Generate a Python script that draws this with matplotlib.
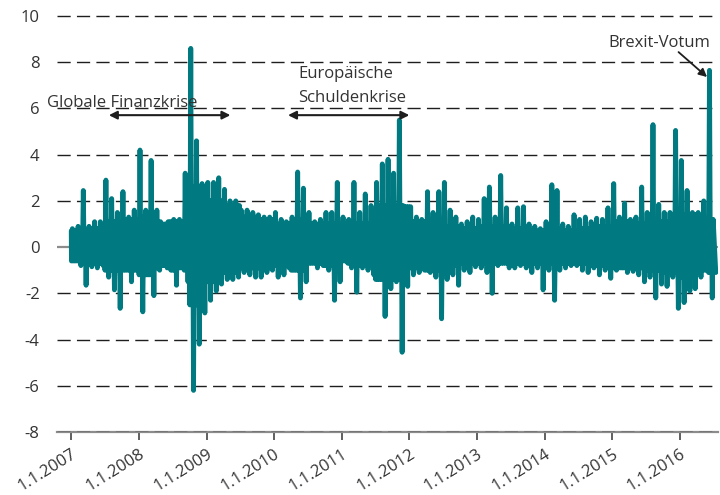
import matplotlib
matplotlib.use("Agg")
import matplotlib.pyplot as plt
import pandas as pd

plt.rcParams['font.family'] = ['Open Sans', 'DejaVu Sans']

# ---- data ----
months = pd.period_range("2007-01", "2016-06", freq="M")
# monthly extremes (spikes)
monthly_high = [
    0.8, 0.9, 2.45, 0.9, 1.1, 1.1, 2.9, 2.1, 1.5, 2.4, 1.3, 1.6,        # 2007
    4.2, 1.6, 3.75, 1.6, 1.0, 1.1, 1.2, 1.2, 3.2, 8.6, 4.6, 2.75,       # 2008
    2.8, 2.8, 3.0, 2.5, 2.0, 2.0, 1.6, 1.6, 1.5, 1.4, 1.3, 1.3,         # 2009
    1.5, 1.2, 1.1, 1.3, 3.25, 2.55, 1.5, 1.1, 1.2, 1.5, 1.5, 2.8,       # 2010
    1.3, 1.2, 2.8, 1.5, 2.3, 1.8, 2.8, 3.6, 3.8, 3.2, 5.5, 1.75,        # 2011
    1.75, 1.3, 1.2, 2.4, 1.5, 2.4, 2.8, 1.6, 1.3, 1.0, 1.1, 1.3,        # 2012
    1.2, 2.1, 2.6, 1.3, 3.1, 1.7, 1.0, 1.7, 1.75, 1.0, 0.9, 0.8,        # 2013
    1.1, 2.7, 2.45, 1.0, 0.9, 1.4, 1.2, 1.3, 1.1, 1.25, 1.2, 1.7,       # 2014
    2.75, 1.3, 1.9, 1.2, 1.3, 2.6, 1.5, 5.3, 1.85, 1.5, 1.5, 5.05,      # 2015
    3.75, 2.45, 1.5, 1.5, 2.0, 7.65,                                    # 2016
]
monthly_low = [
    -0.6, -0.8, -1.65, -0.85, -0.9, -0.8, -1.3, -1.85, -2.65, -1.0, -1.5, -1.0,
    -2.8, -1.2, -2.1, -1.0, -0.8, -1.0, -1.65, -0.9, -1.5, -6.2, -4.2, -2.85,
    -2.3, -1.9, -1.6, -1.4, -1.4, -1.3, -1.1, -1.2, -1.3, -1.3, -1.1, -1.0,
    -1.3, -1.2, -0.9, -1.0, -2.2, -1.5, -0.7, -0.9, -0.8, -1.0, -2.3, -1.5,
    -0.6, -0.9, -1.95, -0.9, -1.0, -1.2, -1.4, -3.0, -1.8, -1.5, -4.55, -1.7,
    -1.2, -1.1, -1.0, -1.1, -1.3, -3.1, -1.4, -1.2, -1.65, -1.0, -1.1, -0.85,
    -0.9, -1.1, -2.0, -0.8, -0.7, -0.9, -0.9, -0.8, -0.9, -1.1, -0.9, -1.85,
    -1.0, -2.3, -1.0, -0.9, -0.8, -0.8, -1.0, -1.1, -0.9, -1.2, -1.0, -1.35,
    -1.0, -0.9, -1.1, -1.05, -1.2, -1.5, -1.3, -2.2, -1.6, -1.7, -1.3, -2.65,
    -2.4, -1.9, -1.8, -1.3, -1.0, -2.2,
]
# typical daily range (solid band) per quarter, 2007Q1 .. 2016Q2
band_high = [
    0.7, 0.8, 1.1, 1.2,
    1.3, 1.1, 1.1, 2.6,
    2.0, 1.8, 1.3, 1.2,
    1.0, 1.2, 1.0, 1.0,
    1.0, 1.0, 1.8, 1.8,
    1.1, 1.2, 0.9, 0.8,
    0.9, 0.9, 0.8, 0.7,
    0.8, 0.7, 0.8, 0.9,
    1.1, 1.0, 1.1, 1.1,
    1.4, 1.2,
]
band_low = [
    -0.6, -0.7, -1.0, -1.0,
    -1.2, -0.9, -1.0, -2.5,
    -1.5, -1.1, -0.9, -0.9,
    -0.8, -1.0, -0.7, -0.8,
    -0.7, -0.8, -1.4, -1.4,
    -0.9, -1.0, -0.8, -0.7,
    -0.7, -0.7, -0.7, -0.7,
    -0.7, -0.7, -0.7, -0.8,
    -0.9, -0.9, -1.0, -1.1,
    -1.3, -1.1,
]
first_value = 0.7
last_value = -1.1
tick_years = list(range(2007, 2017))
tick_labels = [f"1.1.{y}" for y in tick_years]
y_ticks = list(range(-8, 11, 2))

# ---- build series: band / spike values within each month ----
dates = [pd.Timestamp("2007-01-02")]
values = [first_value]
for i, (p, h, l) in enumerate(zip(months, monthly_high, monthly_low)):
    s = p.start_time
    bh = min(band_high[i // 3], h)
    bl = max(band_low[i // 3], l)
    for day, v in zip([2, 7, 12, 17, 22, 27], [bl, h, bl, bh, l, bh]):
        dates.append(s + pd.Timedelta(days=day))
        values.append(v)
dates.append(pd.Timestamp("2016-07-12"))
values.append(last_value)

teal = "#007a80"
dark = "#1e1e1e"
txt = "#333333"
fs = 12

fig = plt.figure(figsize=(7.2, 4.95), dpi=100)
ax = fig.add_axes([57/720, 1 - 432/495, (718 - 57)/720, (432 - 11.4)/495])

ax.set_xlim(pd.Timestamp("2006-10-17"), pd.Timestamp("2016-07-24"))
ax.set_ylim(-8, 10.2)

for y in y_ticks:
    if y == 0:
        ax.axhline(0, color="#8c8c8c", lw=1.6, zorder=1)
    else:
        ax.axhline(y, color=dark, lw=1.0, dashes=(9.5, 4.5), zorder=3 if y == -8 else 1)

ax.plot(dates, values, color=teal, lw=3.5, solid_joinstyle="round",
        solid_capstyle="round", zorder=2)

for s in ["top", "right", "left"]:
    ax.spines[s].set_visible(False)
ax.spines["bottom"].set_color("#8c8c8c")
ax.spines["bottom"].set_linewidth(1.6)
ax.spines["bottom"].set_zorder(2.5)

ax.set_yticks(y_ticks)
ax.set_yticklabels([str(v) for v in y_ticks])
ax.tick_params(axis="y", length=0, pad=12.5, labelsize=fs, labelcolor=txt)

ax.set_xticks([pd.Timestamp(f"{y}-01-01") for y in tick_years])
ax.set_xticklabels(tick_labels, rotation=32, ha="right", va="top",
                   rotation_mode="anchor")
ax.tick_params(axis="x", direction="out", length=6, width=1.2, color="#444444",
               labelsize=fs, labelcolor=txt, pad=4)

# ---- annotations ----
ax.text(pd.Timestamp("2006-08-24"), 6.05, "Globale Finanzkrise", fontsize=fs,
        color=txt, ha="left", va="baseline")
ax.annotate("", xy=(pd.Timestamp("2007-07-24"), 5.71),
            xytext=(pd.Timestamp("2009-05-10"), 5.71),
            arrowprops=dict(arrowstyle="<|-|>", color=dark, lw=1.5,
                            mutation_scale=12, shrinkA=0, shrinkB=0))

ax.text(pd.Timestamp("2010-05-11"), 7.31, "Europäische", fontsize=fs,
        color=txt, ha="left", va="baseline")
ax.text(pd.Timestamp("2010-05-11"), 6.27, "Schuldenkrise", fontsize=fs,
        color=txt, ha="left", va="baseline")
ax.annotate("", xy=(pd.Timestamp("2010-03-17"), 5.71),
            xytext=(pd.Timestamp("2012-01-01"), 5.71),
            arrowprops=dict(arrowstyle="<|-|>", color=dark, lw=1.5,
                            mutation_scale=12, shrinkA=0, shrinkB=0))

ax.text(pd.Timestamp("2016-06-14"), 8.65, "Brexit-Votum", fontsize=fs,
        color=txt, ha="right", va="baseline")
ax.annotate("", xy=(pd.Timestamp("2016-05-26"), 7.36),
            xytext=(pd.Timestamp("2015-12-24"), 8.44),
            arrowprops=dict(arrowstyle="-|>", color=dark, lw=1.3,
                            mutation_scale=12, shrinkA=0, shrinkB=0))

fig.savefig("out.png", dpi=100)
